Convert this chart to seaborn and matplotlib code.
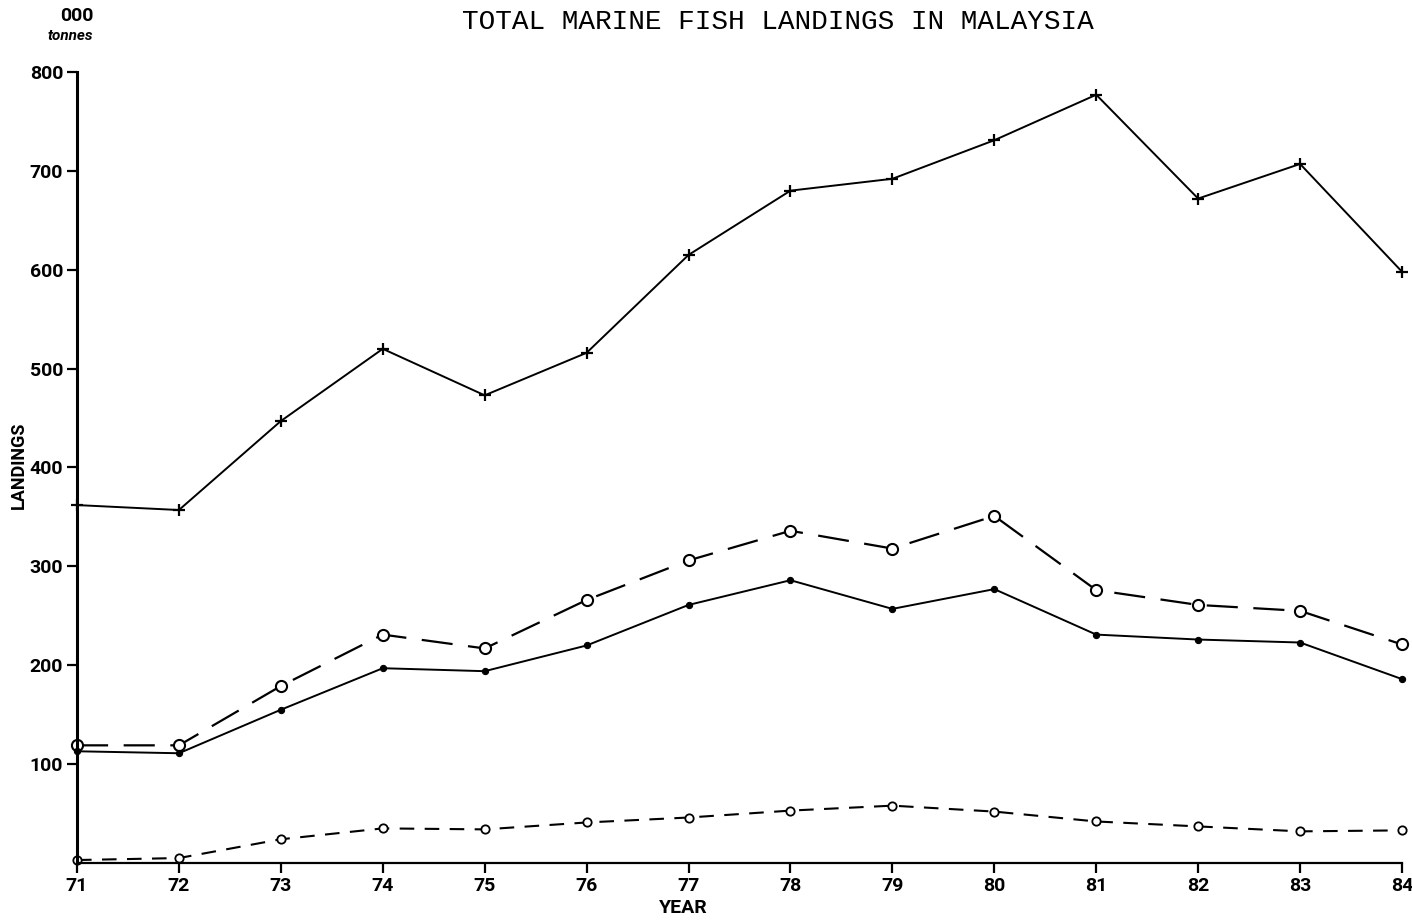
import matplotlib
matplotlib.use("Agg")
import matplotlib.pyplot as plt
import pandas as pd
import seaborn as sns

# landings, '000 tonnes
years = [71, 72, 73, 74, 75, 76, 77, 78, 79, 80, 81, 82, 83, 84]
total = [362, 357, 447, 520, 473, 516, 615, 680, 692, 731, 777, 672, 707, 598]
open_big = [119, 119, 179, 231, 217, 266, 306, 336, 318, 351, 276, 261, 255, 221]
dots = [113, 111, 155, 197, 194, 220, 261, 286, 257, 277, 231, 226, 223, 186]
open_small = [3, 5, 24, 35, 34, 41, 46, 53, 58, 52, 42, 37, 32, 33]
y_ticks = [100, 200, 300, 400, 500, 600, 700, 800]

sns.set_style("ticks")
plt.rcParams["text.color"] = "black"
plt.rcParams["xtick.color"] = "black"
plt.rcParams["ytick.color"] = "black"
lab_font = ["Roboto", "DejaVu Sans"]

fig = plt.figure(figsize=(14.12, 9.21), dpi=100)
ax = fig.add_axes([77 / 1412, 1 - 863 / 921, 1325 / 1412, 791 / 921])

df = pd.DataFrame({"year": years, "total": total, "open_big": open_big,
                   "dots": dots, "open_small": open_small})

sns.lineplot(data=df, x="year", y="total", ax=ax, color="black", lw=1.4,
             marker="+", markersize=9, mew=1.6, mec="black", clip_on=False)
sns.lineplot(data=df, x="year", y="open_big", ax=ax, color="black", lw=1.6,
             linestyle=(0, (14, 7)), marker="o", markersize=8, mew=1.5,
             mfc="white", mec="black", clip_on=False)
sns.lineplot(data=df, x="year", y="dots", ax=ax, color="black", lw=1.4,
             marker="o", markersize=4.5, mec="black", clip_on=False)
sns.lineplot(data=df, x="year", y="open_small", ax=ax, color="black", lw=1.5,
             linestyle=(0, (7, 5)), marker="o", markersize=6, mew=1.3,
             mfc="white", mec="black", clip_on=False)

ax.set_xlim(71, 84)
ax.set_ylim(0, 800)
ax.set_xticks(years)
ax.set_xticklabels([str(y) for y in years])
ax.set_yticks(y_ticks)
ax.set_yticklabels([str(v) for v in y_ticks])
sns.despine(ax=ax)
ax.spines["left"].set_linewidth(2.2)
ax.spines["left"].set_color("black")
ax.spines["bottom"].set_linewidth(1.6)
ax.spines["bottom"].set_color("black")
ax.tick_params(axis="both", length=7, width=1.6, color="black", pad=3)
for t in ax.get_xticklabels() + ax.get_yticklabels():
    t.set_family(lab_font)
    t.set_fontweight("bold")
    t.set_fontsize(14)
    t.set_color("black")
ax.set_xlabel("")
ax.set_ylabel("")

fig.text(0.551, 0.976, "TOTAL MARINE FISH LANDINGS IN MALAYSIA",
         family="Liberation Mono", fontsize=20, ha="center", va="center")
fig.text(19 / 1412, 1 - 465 / 921, "LANDINGS", rotation=90, family=lab_font,
         fontweight="bold", fontsize=13, ha="center", va="center")
fig.text(683 / 1412, 1 - 908 / 921, "YEAR", family=lab_font,
         fontweight="bold", fontsize=14, ha="center", va="center")
fig.text(77 / 1412, 1 - 16 / 921, "000", family=lab_font,
         fontweight="bold", fontsize=14, ha="center", va="center")
fig.text(70 / 1412, 1 - 36 / 921, "tonnes", family=lab_font,
         fontweight="bold", fontstyle="italic", fontsize=11, ha="center", va="center")

fig.savefig("out.png", dpi=100)
